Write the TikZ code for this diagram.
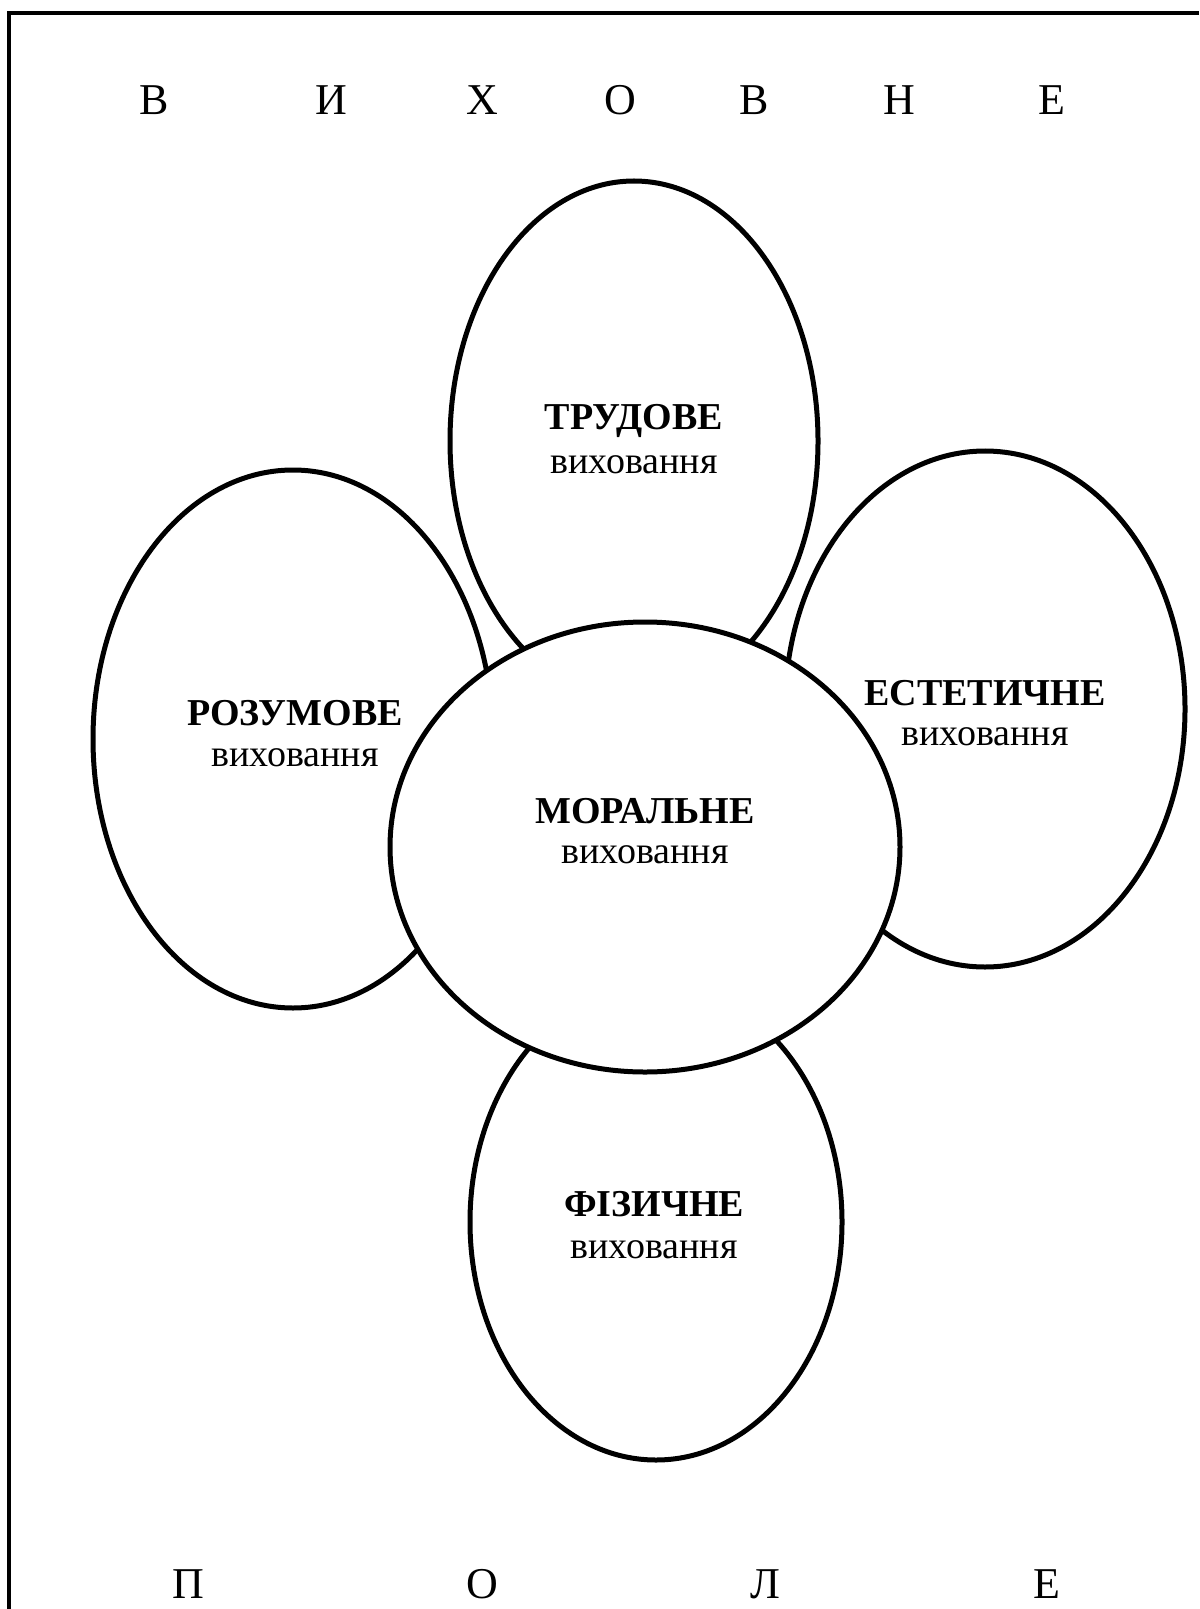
\documentclass[tikz,border=0pt]{standalone}
\usepackage{fontspec}
\setmainfont{Liberation Serif}
\usetikzlibrary{shapes.geometric}
\begin{document}
\begin{tikzpicture}[x=0.5pt,y=-0.5pt,
  petal/.style={draw=black, line width=2.5pt, fill=white, ellipse, inner sep=0pt},
  head/.style={font=\fontsize{19}{22}\selectfont\bfseries},
  sub/.style={font=\fontsize{19}{22}\selectfont},
  big/.style={font=\fontsize{22}{26}\selectfont, inner sep=0pt},
  frame/.style={line width=2.2pt}]
\useasboundingbox (0,0) rectangle (1199,1609);
\coordinate (fbl) at (9,1609);
\coordinate (ftl) at (9,13);
\coordinate (ftr) at (1199,13);
\draw[frame] (fbl) -- (ftl) -- (ftr);
% letters
\foreach \ch/\xx [count=\i] in {В/154,И/331,Х/482,О/620,В/754,Н/899,Е/1052}
  \node[big] (t\i) at (\xx,100) {\ch};
\foreach \ch/\xx [count=\i] in {П/188,О/482,Л/765,Е/1047}
  \node[big] (b\i) at (\xx,1584) {\ch};
% petals
\node[petal, minimum width=184pt, minimum height=260pt] (trud) at (634,441) {};
\node[petal, minimum width=200pt, minimum height=269pt] (rozum) at (293,739) {};
\node[petal, minimum width=200pt, minimum height=258pt] (estet) at (985,709) {};
\node[petal, minimum width=186pt, minimum height=238pt] (fiz) at (656,1222) {};
\node[petal, minimum width=255pt, minimum height=225pt] (moral) at (645,847) {};
% labels
\node[head] (trudh) at (634,421) {ТРУДОВЕ};
\node[sub] (truds) at (634,465) {виховання};
\node[head] (rozumh) at (295,713) {РОЗУМОВЕ};
\node[sub] (rozums) at (295,758) {виховання};
\node[head] (esteth) at (985,693) {ЕСТЕТИЧНЕ};
\node[sub] (estets) at (985,737) {виховання};
\node[head] (moralh) at (645,811) {МОРАЛЬНЕ};
\node[sub] (morals) at (645,855) {виховання};
\node[head] (fizh) at (654,1204) {ФІЗИЧНЕ};
\node[sub] (fizs) at (654,1250) {виховання};
\end{tikzpicture}
\end{document}
